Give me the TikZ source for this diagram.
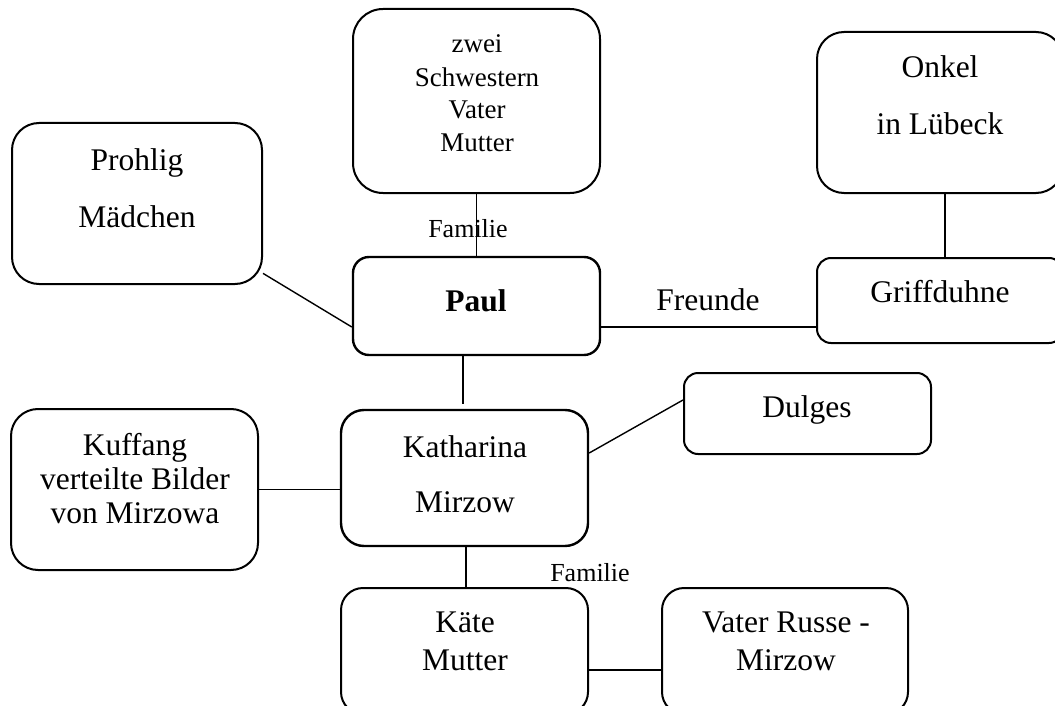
\documentclass[tikz,border=0pt]{standalone}
\usepackage{fontspec}
\setmainfont{Liberation Serif}
\usepackage{tikz}
\usetikzlibrary{positioning}
\tikzset{kasten/.style={draw, rounded corners=#1, line width=2pt, inner sep=0pt},
    kasten/.default=27pt,
    schrift/.style={inner sep=0pt, anchor=base, align=center,
    font=\fontsize{31.5}{57}\selectfont},
    linie/.style={line width=1.4pt}}

\begin{document}
\begin{tikzpicture}[x=1pt, y=-1pt]
    \useasboundingbox (0, 0) rectangle (1055, 706);
    \clip (0, 0) rectangle (1055, 706);

    %kaesten
    \node[kasten=30pt, minimum width=247, minimum height=184] (familie) at (476.5, 101) {};
    \node[kasten, minimum width=250, minimum height=161] (prohlig) at (137, 203.5) {};
    \node[kasten, minimum width=246, minimum height=161] (onkel) at (940, 112.5) {};
    \node[kasten=16pt, line width=2.4pt, minimum width=247, minimum height=98] (paul) at (476.5, 306) {};
    \node[kasten=14pt, minimum width=246, minimum height=85] (griff) at (940, 300.5) {};
    \node[kasten=14pt, minimum width=247, minimum height=81] (dulges) at (807.5, 413.5) {};
    \node[kasten, minimum width=247, minimum height=161] (kuffang) at (134.5, 489.5) {};
    \node[kasten=23pt, line width=2.4pt, minimum width=247, minimum height=136] (katharina) at (464.5, 478) {};
    \node[kasten=22pt, minimum width=247, minimum height=126] (kaete) at (464.5, 651) {};
    \node[kasten=22pt, minimum width=246, minimum height=126] (vater) at (785, 651) {};

    %texte (an der letzten grundlinie)
    \node[schrift, font=\fontsize{27}{33}\selectfont] (familieT) at (477, 152) {zwei\\Schwestern\\Vater\\Mutter};
    \node[schrift] (prohligT) at (137, 227) {Prohlig\\Mädchen};
    \node[schrift] (onkelT) at (940, 135) {Onkel\\in Lübeck};
    \node[schrift, font=\fontsize{31.5}{57}\selectfont\bfseries] (paulT) at (476, 311) {Paul};
    \node[schrift] (griffT) at (940, 302) {Griffduhne};
    \node[schrift] (dulgesT) at (807, 417) {Dulges};
    \node[schrift, font=\fontsize{31.5}{34}\selectfont] (kuffangT) at (135, 523) {Kuffang\\verteilte Bilder\\von Mirzowa};
    \node[schrift, font=\fontsize{31.5}{55}\selectfont] (katharinaT) at (465, 512) {Katharina\\Mirzow};
    \node[schrift, font=\fontsize{31.5}{38}\selectfont] (kaeteT) at (465, 670) {Käte\\Mutter};
    \node[schrift, font=\fontsize{31.5}{38}\selectfont] (vaterT) at (786, 670) {Vater Russe -\\Mirzow};

    %linien
    \draw[linie] (familie.south) -- (paul.north);
    \draw[linie] (prohlig.-29) -- ([yshift=-21pt]paul.west);
    \draw[linie] ([yshift=-21pt]paul.east) -- ([yshift=-21pt]paul.east -| griff.west);
    \draw[linie] ([xshift=5pt]onkel.south) -- ([xshift=5pt]griff.north);
    \draw[linie] ([xshift=-13.5pt]paul.south) -- ([xshift=-1.5pt, yshift=5pt]katharina.north);
    \draw[linie] ([yshift=25pt]katharina.east) -- ([yshift=13.5pt]dulges.west);
    \draw[linie] (kuffang.east) -- (kuffang.east -| katharina.west);
    \draw[linie] ([xshift=1.5pt]katharina.south) -- ([xshift=1.5pt]kaete.north);
    \draw[linie] ([yshift=-19pt]kaete.east) -- ([yshift=-19pt]kaete.east -| vater.west);

    %beschriftung
    \node[schrift, font=\fontsize{26}{30}\selectfont] (fam1) at (468, 237) {Familie};
    \node[schrift, font=\fontsize{26}{30}\selectfont] (fam2) at (590, 581) {Familie};
    \node[schrift] (freunde) at (708, 310) {Freunde};
\end{tikzpicture}
\end{document}
